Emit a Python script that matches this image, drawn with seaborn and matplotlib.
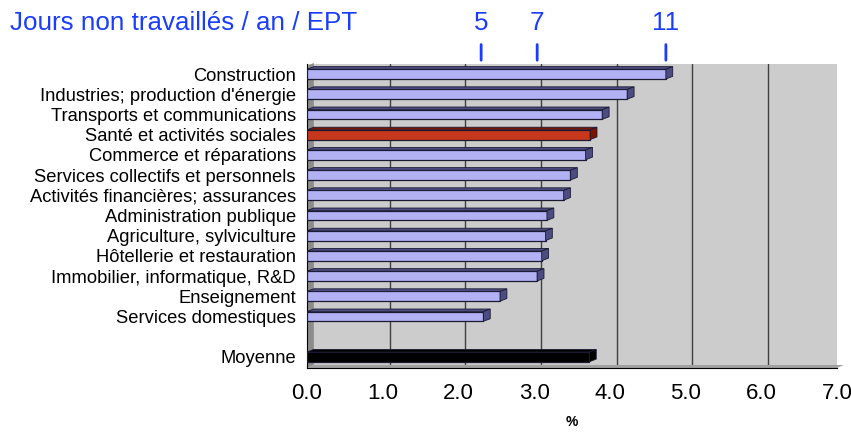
import matplotlib
matplotlib.use("Agg")
import matplotlib.pyplot as plt
from matplotlib.patches import Polygon
import seaborn as sns
import pandas as pd

categories = ["Construction", "Industries; production d'énergie", "Transports et communications",
              "Santé et activités sociales", "Commerce et réparations", "Services collectifs et personnels",
              "Activités financières; assurances", "Administration publique", "Agriculture, sylviculture",
              "Hôtellerie et restauration", "Immobilier, informatique, R&D", "Enseignement",
              "Services domestiques", "Moyenne"]
values = [4.74, 4.23, 3.90, 3.74, 3.68, 3.48, 3.39, 3.17, 3.15, 3.10, 3.04, 2.55, 2.33, 3.73]
bar_colors = ["#A6A6FF"] * 3 + ["#E32400"] + ["#A6A6FF"] * 9 + ["#000000"]
top_colors = ["#4C4C80"] * 3 + ["#7A1400"] + ["#4C4C80"] * 9 + ["#000000"]
days = ["5", "7", "11"]
days_pos = [2.30, 3.04, 4.74]

order = categories[:-1] + [" "] + ["Moyenne"]
df = pd.DataFrame({"cat": categories, "val": values})
pal = dict(zip(categories, bar_colors))
tops = dict(zip(categories, top_colors))

sns.set_style("white")
plt.rcParams["font.family"] = ["Liberation Sans", "DejaVu Sans"]

fig = plt.figure(figsize=(8.51, 4.32), dpi=100)
ax = fig.add_axes([307 / 851, 64 / 432, 530 / 851, 304 / 432])
ax.set_facecolor("#CCCCCC")

sns.barplot(data=df, x="val", y="cat", hue="cat", order=order, palette=pal, legend=False,
            width=0.48, edgecolor="#1A1A33", linewidth=0.9, ax=ax, zorder=3)

ax.set_xlim(0, 7)
ax.set_ylim(14.55, -0.4)

# vertical gridlines (back wall)
for g in range(1, 8):
    ax.axvline(g + 0.09, color="#404040", lw=1.0, zorder=1)

# fake 3D depth on bars
dx, dy = 0.09, 0.13
for p in list(ax.patches):
    x0, y0 = p.get_x(), p.get_y()
    w, h = p.get_width(), p.get_height()
    if w <= 0:
        continue
    idx = int(round(y0 + h / 2))
    c = tops.get(order[idx], "#4C4C80")
    top = Polygon([(x0, y0), (x0 + dx, y0 - dy), (x0 + w + dx, y0 - dy), (x0 + w, y0)],
                  closed=True, facecolor=c, edgecolor="#1A1A33", lw=0.6, zorder=4)
    side = Polygon([(x0 + w, y0), (x0 + w + dx, y0 - dy), (x0 + w + dx, y0 + h - dy), (x0 + w, y0 + h)],
                   closed=True, facecolor=c, edgecolor="#1A1A33", lw=0.6, zorder=4)
    ax.add_patch(top)
    ax.add_patch(side)

# left wall and floor
ax.add_patch(Polygon([(0, 14.55), (0, -0.4), (0.09, -0.55), (0.09, 14.4)], closed=True,
                     facecolor="#8C8C8C", edgecolor="none", zorder=2, clip_on=False))
ax.add_patch(Polygon([(0, 14.55), (0.09, 14.4), (7.09, 14.4), (7, 14.55)], closed=True,
                     facecolor="#A0A0A0", edgecolor="none", zorder=2, clip_on=False))

for s in ["top", "right"]:
    ax.spines[s].set_visible(False)
ax.spines["left"].set_color("black")
ax.spines["bottom"].set_color("black")

ax.set_xticks(range(8))
ax.set_xticklabels([f"{v:.1f}" for v in range(8)], fontsize=16, color="black")
ax.tick_params(axis="x", length=3, width=0.8, color="black", direction="out", pad=8)
ax.set_yticks(range(15))
ax.set_yticklabels(order, fontsize=13.2, color="black")
ax.set_yticks([i + 0.5 for i in range(-1, 15)], minor=True)
ax.tick_params(axis="y", which="major", length=0, pad=8)
ax.tick_params(axis="y", which="minor", length=5, width=0.8, color="black")
ax.set_xlabel("%", fontsize=10, fontweight="bold", labelpad=8, color="black")
ax.set_ylabel("")

# days annotations
fig.text(10 / 851, 1 - 23 / 432, "Jours non travaillés / an / EPT", color="#1A3CFF", fontsize=18.7,
         va="center", ha="left")
for lab, pos in zip(days, days_pos):
    ax.annotate(lab, xy=(pos, -0.4), xycoords="data", xytext=(0, 31), textcoords="offset points",
                ha="center", va="center", fontsize=18.7, color="#1A3CFF", annotation_clip=False)
    ax.annotate("", xy=(pos, -0.55), xytext=(pos, -1.6), xycoords="data",
                arrowprops=dict(arrowstyle="-", color="#1A3CFF", lw=2), annotation_clip=False)

fig.savefig("out.png", dpi=100)
